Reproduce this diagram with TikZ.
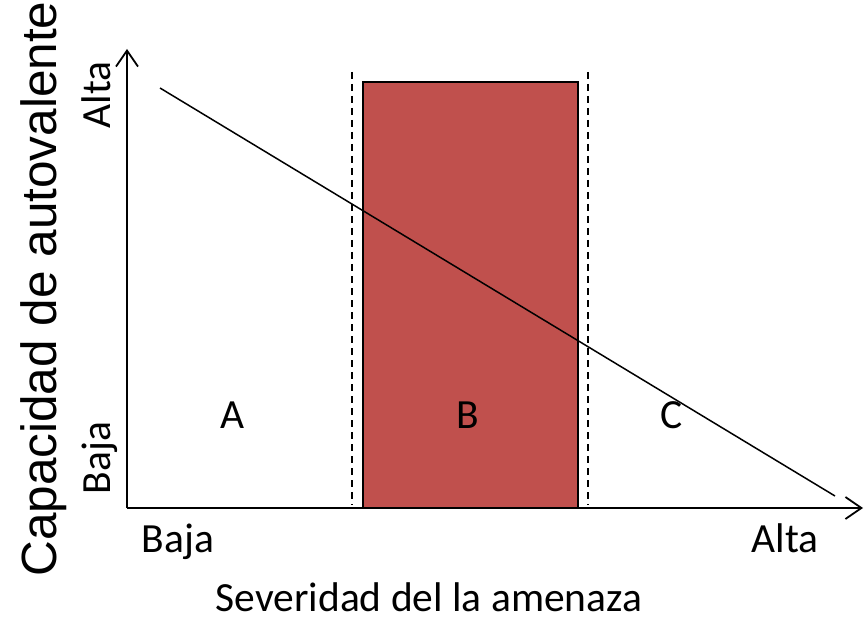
\documentclass[tikz,border=0pt]{standalone}
\usepackage{fontspec}
\setmainfont{Carlito}
\newfontfamily\axisfont{Liberation Sans}
\usetikzlibrary{arrows.meta}
\definecolor{zonered}{HTML}{C0504D}

\begin{document}
\begin{tikzpicture}[x=1pt,y=-1pt,
    axisline/.style={line width=2pt,-{Straight Barb[length=16pt,width=22pt,line width=1.8pt]}},
    limitline/.style={line width=1.4pt,dash pattern=on 7pt off 5pt},
    zonelabel/.style={inner sep=0pt,anchor=base,font=\fontsize{41.5}{48}\selectfont},
    sidelabel/.style={zonelabel,rotate=90}]
    \useasboundingbox (0,0) rectangle (864,620);
    \coordinate (O) at (127,508); % origin
\coordinate (yend) at (127,49); % y axis tip
\coordinate (xend) at (863,508); % x axis tip
\coordinate (lineA) at (160,88); % diagonal start
\coordinate (lineB) at (835,496); % diagonal end
\fill[zonered] (363,82) rectangle (578,508); % zone B
\draw[line width=2pt] (363,508) -- (363,82) -- (578,82) -- (578,508); % zone B border
\draw[limitline] (352,72) -- (352,505); % limit A B
\draw[limitline] (588,72) -- (588,505); % limit B C
\draw[line width=1.5pt] (lineA) -- (lineB); % capacity line
\draw[axisline] (O) -- (yend); % y axis
\draw[axisline] (O) -- (xend); % x axis
\node[zonelabel] (labA) at (233,428) {A}; % zone A
\node[zonelabel] (labB) at (468,428) {B}; % zone B
\node[zonelabel] (labC) at (672,428) {C}; % zone C
\node[zonelabel] (xlow) at (178,552) {Baja}; % x low
\node[zonelabel] (xhigh) at (785,552) {Alta}; % x high
\node[zonelabel] (xtitle) at (429,611) {Severidad del la amenaza}; % x title
\node[sidelabel] (ylow) at (110,458) {Baja}; % y low
\node[sidelabel] (yhigh) at (110,95) {Alta}; % y high
\node[sidelabel,font=\axisfont\fontsize{49.5}{56}\selectfont] (ytitle) at (56,289) {Capacidad de autovalente}; % y title

    \end{tikzpicture}
\end{document}
